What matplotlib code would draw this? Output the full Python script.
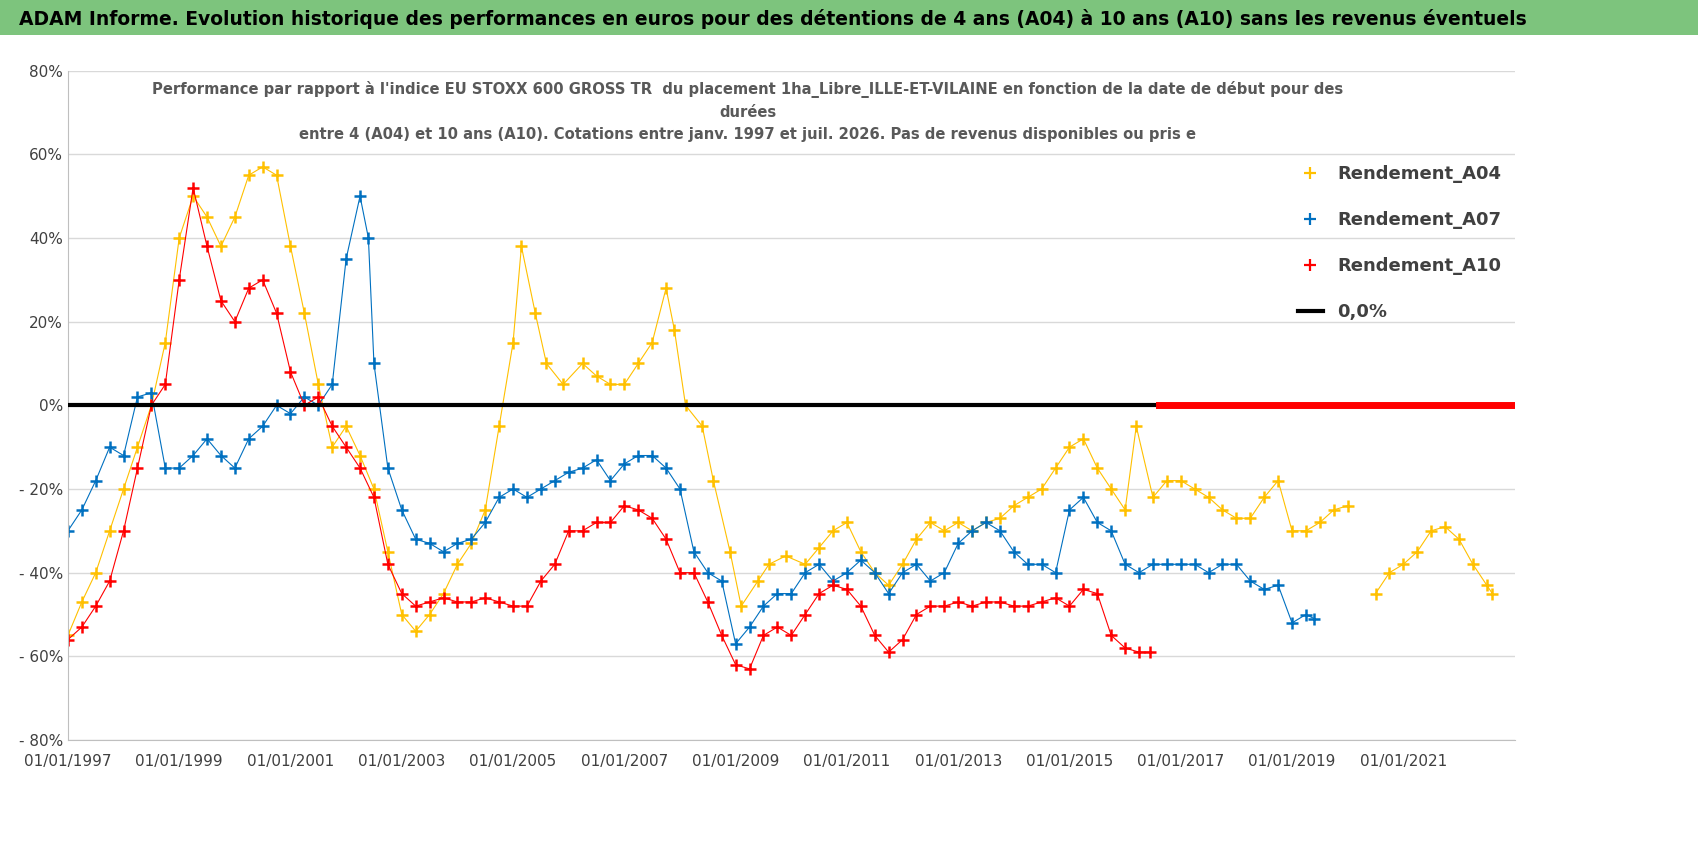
import matplotlib.pyplot as plt
import matplotlib.patches as mpatches
from matplotlib.lines import Line2D

# A04 (yellow)
a04_x = [1997.0, 1997.25, 1997.5, 1997.75, 1998.0, 1998.25, 1998.5, 1998.75, 1999.0, 1999.25, 1999.5, 1999.75,
         2000.0, 2000.25, 2000.5, 2000.75, 2001.0, 2001.25, 2001.5, 2001.75, 2002.0, 2002.25, 2002.5, 2002.75,
         2003.0, 2003.25, 2003.5, 2003.75, 2004.0, 2004.25, 2004.5, 2004.75, 2005.0, 2005.15, 2005.4, 2005.6,
         2005.9, 2006.25, 2006.5, 2006.75, 2007.0, 2007.25, 2007.5, 2007.75, 2007.9, 2008.1, 2008.4, 2008.6,
         2008.9, 2009.1, 2009.4, 2009.6, 2009.9, 2010.25, 2010.5, 2010.75, 2011.0, 2011.25, 2011.5, 2011.75,
         2012.0, 2012.25, 2012.5, 2012.75, 2013.0, 2013.25, 2013.5, 2013.75, 2014.0, 2014.25, 2014.5, 2014.75,
         2015.0, 2015.25, 2015.5, 2015.75, 2016.0, 2016.2, 2016.5, 2016.75, 2017.0, 2017.25, 2017.5, 2017.75,
         2018.0, 2018.25, 2018.5, 2018.75, 2019.0, 2019.25, 2019.5, 2019.75, 2020.0]
a04_y = [-55, -47, -40, -30, -20, -10, 0, 15, 40, 50, 45, 38,
         45, 55, 57, 55, 38, 22, 5, -10, -5, -12, -20, -35,
         -50, -54, -50, -45, -38, -33, -25, -5, 15, 38, 22, 10,
         5, 10, 7, 5, 5, 10, 15, 28, 18, 0, -5, -18,
         -35, -48, -42, -38, -36, -38, -34, -30, -28, -35, -40, -43,
         -38, -32, -28, -30, -28, -30, -28, -27, -24, -22, -20, -15,
         -10, -8, -15, -20, -25, -5, -22, -18, -18, -20, -22, -25,
         -27, -27, -22, -18, -30, -30, -28, -25, -24]
a04b_x = [2020.5, 2020.75, 2021.0, 2021.25, 2021.5, 2021.75, 2022.0, 2022.25, 2022.5, 2022.6]
a04b_y = [-45, -40, -38, -35, -30, -29, -32, -38, -43, -45]

# A07 (blue)
a07_x = [1997.0, 1997.25, 1997.5, 1997.75, 1998.0, 1998.25, 1998.5, 1998.75, 1999.0, 1999.25, 1999.5, 1999.75,
         2000.0, 2000.25, 2000.5, 2000.75, 2001.0, 2001.25, 2001.5, 2001.75, 2002.0, 2002.25, 2002.4, 2002.5,
         2002.75, 2003.0, 2003.25, 2003.5, 2003.75, 2004.0, 2004.25, 2004.5, 2004.75, 2005.0, 2005.25, 2005.5,
         2005.75, 2006.0, 2006.25, 2006.5, 2006.75, 2007.0, 2007.25, 2007.5, 2007.75, 2008.0, 2008.25, 2008.5,
         2008.75, 2009.0, 2009.25, 2009.5, 2009.75, 2010.0, 2010.25, 2010.5, 2010.75, 2011.0, 2011.25, 2011.5,
         2011.75, 2012.0, 2012.25, 2012.5, 2012.75, 2013.0, 2013.25, 2013.5, 2013.75, 2014.0, 2014.25, 2014.5,
         2014.75, 2015.0, 2015.25, 2015.5, 2015.75, 2016.0, 2016.25, 2016.5, 2016.75, 2017.0, 2017.25, 2017.5,
         2017.75, 2018.0, 2018.25, 2018.5, 2018.75, 2019.0, 2019.25, 2019.4]
a07_y = [-30, -25, -18, -10, -12, 2, 3, -15, -15, -12, -8, -12,
         -15, -8, -5, 0, -2, 2, 0, 5, 35, 50, 40, 10,
         -15, -25, -32, -33, -35, -33, -32, -28, -22, -20, -22, -20,
         -18, -16, -15, -13, -18, -14, -12, -12, -15, -20, -35, -40,
         -42, -57, -53, -48, -45, -45, -40, -38, -42, -40, -37, -40,
         -45, -40, -38, -42, -40, -33, -30, -28, -30, -35, -38, -38,
         -40, -25, -22, -28, -30, -38, -40, -38, -38, -38, -38, -40,
         -38, -38, -42, -44, -43, -52, -50, -51]

# A10 (red)
a10_x = [1997.0, 1997.25, 1997.5, 1997.75, 1998.0, 1998.25, 1998.5, 1998.75, 1999.0, 1999.25, 1999.5, 1999.75,
         2000.0, 2000.25, 2000.5, 2000.75, 2001.0, 2001.25, 2001.5, 2001.75, 2002.0, 2002.25, 2002.5, 2002.75,
         2003.0, 2003.25, 2003.5, 2003.75, 2004.0, 2004.25, 2004.5, 2004.75, 2005.0, 2005.25, 2005.5, 2005.75,
         2006.0, 2006.25, 2006.5, 2006.75, 2007.0, 2007.25, 2007.5, 2007.75, 2008.0, 2008.25, 2008.5, 2008.75,
         2009.0, 2009.25, 2009.5, 2009.75, 2010.0, 2010.25, 2010.5, 2010.75, 2011.0, 2011.25, 2011.5, 2011.75,
         2012.0, 2012.25, 2012.5, 2012.75, 2013.0, 2013.25, 2013.5, 2013.75, 2014.0, 2014.25, 2014.5, 2014.75,
         2015.0, 2015.25, 2015.5, 2015.75, 2016.0, 2016.25, 2016.45]
a10_y = [-56, -53, -48, -42, -30, -15, 0, 5, 30, 52, 38, 25,
         20, 28, 30, 22, 8, 0, 2, -5, -10, -15, -22, -38,
         -45, -48, -47, -46, -47, -47, -46, -47, -48, -48, -42, -38,
         -30, -30, -28, -28, -24, -25, -27, -32, -40, -40, -47, -55,
         -62, -63, -55, -53, -55, -50, -45, -43, -44, -48, -55, -59,
         -56, -50, -48, -48, -47, -48, -47, -47, -48, -48, -47, -46,
         -48, -44, -45, -55, -58, -59, -59]
a10_zero_x = [2016.6, 2023.0]
a10_zero_y = [0, 0]

yellow, blue, red = '#FFC000', '#0070C0', '#FF0000'

fig = plt.figure(figsize=(16.98, 8.56), dpi=100)
ax = fig.add_axes([0.040, 0.1355, 0.852, 0.782])

kw = dict(marker='+', markersize=8, markeredgewidth=1.8, linewidth=0.8)
ax.plot(a04_x, a04_y, color=yellow, **kw)
ax.plot(a04b_x, a04b_y, color=yellow, **kw)
ax.plot(a07_x, a07_y, color=blue, **kw)
ax.plot(a10_x, a10_y, color=red, **kw)
ax.plot(a10_zero_x, a10_zero_y, color=red, linewidth=5, zorder=4)
ax.axhline(0, color='black', linewidth=3, zorder=3)

ax.set_xlim(1997, 2023)
ax.set_ylim(-80, 80)
ax.set_yticks(range(-80, 81, 20))
ax.set_yticklabels(['- 80%', '- 60%', '- 40%', '- 20%', '0%', '20%', '40%', '60%', '80%'])
ax.set_xticks(range(1997, 2023, 2))
ax.set_xticklabels(['01/01/%d' % y for y in range(1997, 2023, 2)])
ax.tick_params(labelsize=11, length=0, colors='#404040')
ax.tick_params(axis='x', pad=10)
ax.grid(axis='y', color='#d9d9d9', linewidth=1)
for s in ['top', 'right']:
    ax.spines[s].set_visible(False)
ax.spines['left'].set_color('#bfbfbf')
ax.spines['bottom'].set_color('#bfbfbf')

ax.text(0.47, 0.985, "Performance par rapport à l'indice EU STOXX 600 GROSS TR  du placement 1ha_Libre_ILLE-ET-VILAINE en fonction de la date de début pour des\ndurées\nentre 4 (A04) et 10 ans (A10). Cotations entre janv. 1997 et juil. 2026. Pas de revenus disponibles ou pris e",
        transform=ax.transAxes, ha='center', va='top', fontsize=10.6, fontweight='bold',
        color='#595959', linespacing=1.6)

handles = [Line2D([], [], color=c, marker='+', markersize=8, markeredgewidth=1.6, linestyle='none')
           for c in (yellow, blue, red)]
handles.append(Line2D([], [], color='black', linewidth=3))
leg = ax.legend(handles, ['Rendement_A04', 'Rendement_A07', 'Rendement_A10', '0,0%'],
                loc='upper left', bbox_to_anchor=(0.845, 0.87), frameon=False, fontsize=13,
                labelspacing=1.55, handlelength=1.4, borderaxespad=0)
for t in leg.get_texts():
    t.set_color('#404040')
    t.set_fontweight('bold')

fig.patches.append(mpatches.Rectangle((0, 0.959), 1, 0.041, transform=fig.transFigure,
                                      facecolor='#7DC47D', edgecolor='none'))
fig.text(0.455, 0.978, "ADAM Informe. Evolution historique des performances en euros pour des détentions de 4 ans (A04) à 10 ans (A10) sans les revenus éventuels",
         ha='center', va='center', fontsize=13.5, fontweight='bold', color='black')

fig.savefig('out.png', dpi=100)
